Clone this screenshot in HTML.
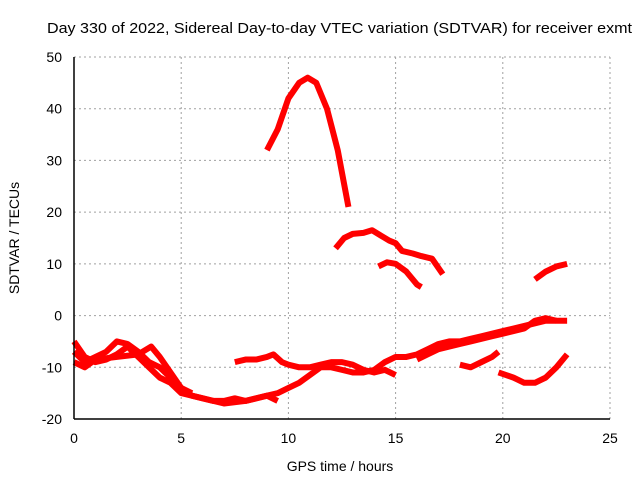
<!DOCTYPE html>
<html><head><meta charset="utf-8"><style>
body{margin:0;background:#fff}
svg{display:block;font-family:"Liberation Sans",sans-serif}
</style></head><body>
<svg width="640" height="480">
<g id="grid"></g>
<g id="series"></g>
<g id="axes"></g>
<text x="47" y="33" font-size="15" textLength="585" lengthAdjust="spacingAndGlyphs">Day 330 of 2022, Sidereal Day-to-day VTEC variation (SDTVAR) for receiver exmt</text>
<text x="340" y="471" text-anchor="middle" font-size="14">GPS time / hours</text>
<text transform="translate(19,238) rotate(-90)" text-anchor="middle" font-size="14">SDTVAR / TECUs</text>
</svg>
<script>
const xTicks=[0,5,10,15,20,25];
const yTicks=[-20,-10,0,10,20,30,40,50];
const seriesArc=[[9,32],[9.5,36],[10,42],[10.5,45],[10.9,46],[11.3,45],[11.8,40],[12.3,32],[12.8,21]];
const seriesUpperA=[[12.2,13],[12.6,15],[13,15.8],[13.5,16],[13.9,16.5],[14.3,15.5],[14.7,14.5],[15,14],[15.3,12.5],[15.8,12],[16.2,11.5],[16.7,11],[17.2,8]];
const seriesUpperB=[[14.2,9.5],[14.6,10.3],[15,10],[15.5,8.5],[16,6],[16.2,5.5]];
const seriesUpperC=[[21.5,7],[22,8.5],[22.5,9.5],[23,10]];
const seriesLowA=[[0,-5],[0.5,-8],[1,-9],[1.5,-8.5],[2,-7.5],[2.5,-6],[3,-8],[3.5,-10],[4,-12],[4.5,-13],[5,-15],[5.5,-15.5],[6,-16],[6.5,-16.5],[7,-16.5],[7.5,-16],[8,-16.5],[8.5,-16],[9,-15.5],[9.5,-15],[10,-14],[10.5,-13],[11,-11.5],[11.5,-10],[12,-10],[12.5,-10.5],[13,-11],[13.5,-11],[14,-10.5],[14.5,-9],[15,-8],[15.5,-8],[16,-7.5],[16.5,-6.5],[17,-5.5],[17.5,-5],[18,-5],[18.5,-4.5],[19,-4],[19.5,-3.5],[20,-3],[20.5,-2.5],[21,-2],[21.5,-1.5],[22,-1],[22.5,-1],[23,-1]];
const seriesLowB=[[0,-7],[0.5,-9],[1,-8],[1.5,-7],[2,-5],[2.5,-5.5],[3,-7],[3.5,-9],[4,-10],[4.5,-12],[5,-14],[5.5,-15.5],[6,-16],[7,-17],[8,-16.5],[9,-15.5],[9.5,-16.5]];
const seriesLowC=[[0,-9],[0.5,-10],[1,-8.5],[2,-8],[3,-7.5],[3.6,-6],[4,-8],[4.5,-11],[5,-14],[5.5,-15]];
const seriesLowD=[[7.5,-9],[8,-8.5],[8.5,-8.5],[9,-8],[9.3,-7.5],[9.7,-9],[10,-9.5],[10.5,-10],[11,-10],[11.5,-9.5],[12,-9],[12.5,-9],[13,-9.5],[13.5,-10.5],[14,-11],[14.5,-10.5],[15,-11.5]];
const seriesLowE=[[16,-8.5],[16.5,-7.5],[17,-6.5],[17.5,-6],[18,-5.5],[18.5,-5],[19,-4.5],[19.5,-4],[20,-3.5],[20.5,-3],[21,-2.5],[21.5,-1],[22,-0.5],[22.5,-1]];
const seriesLowF=[[18,-9.5],[18.5,-10],[19,-9],[19.5,-8],[19.8,-7]];
const seriesLowG=[[19.8,-11],[20.5,-12],[21,-13],[21.5,-13],[22,-12],[22.5,-10],[23,-7.5]];
const allSeries=[seriesArc,seriesUpperA,seriesUpperB,seriesUpperC,seriesLowA,seriesLowB,seriesLowC,seriesLowD,seriesLowE,seriesLowF,seriesLowG];
const L=74,R=610,T=57,B=419,xmin=0,xmax=25,ymin=-20,ymax=50;
const X=v=>L+(v-xmin)/(xmax-xmin)*(R-L);
const Y=v=>B-(v-ymin)/(ymax-ymin)*(B-T);
const NS='http://www.w3.org/2000/svg';
function mk(tag,attrs,parent){const e=document.createElementNS(NS,tag);for(const k in attrs)e.setAttribute(k,attrs[k]);parent.appendChild(e);return e;}
const grid=document.getElementById('grid'),axes=document.getElementById('axes'),sg=document.getElementById('series');
xTicks.forEach(t=>{
  if(t>xmin){const g=mk('line',{x1:X(t),x2:X(t),y1:T,y2:B,stroke:'#a0a0a0','stroke-dasharray':'2,3'},grid);
  
  }
  const tx=mk('text',{x:X(t),y:B+24,'text-anchor':'middle','font-size':'14'},axes);tx.textContent=t;
  
  
});
yTicks.forEach(t=>{
  if(t>ymin){const g=mk('line',{x1:L,x2:R,y1:Y(t),y2:Y(t),stroke:'#a0a0a0','stroke-dasharray':'2,3'},grid);
  
  }
  const tx=mk('text',{x:L-12,y:Y(t)+5,'text-anchor':'end','font-size':'14'},axes);tx.textContent=t;
  
  
});
const ax1=mk('line',{x1:L,x2:L,y1:T,y2:B,stroke:'#000','stroke-width':1.5},axes);


const ax2=mk('line',{x1:L,x2:R,y1:B,y2:B,stroke:'#000','stroke-width':1.5},axes);


allSeries.forEach((s,i)=>{
  const p=mk('polyline',{points:s.map(d=>X(d[0])+','+Y(d[1])).join(' '),fill:'none',stroke:'#ff0000','stroke-width':6,'stroke-linejoin':'round','stroke-linecap':'butt'},sg);
  
  
});
</script>
</body></html>
